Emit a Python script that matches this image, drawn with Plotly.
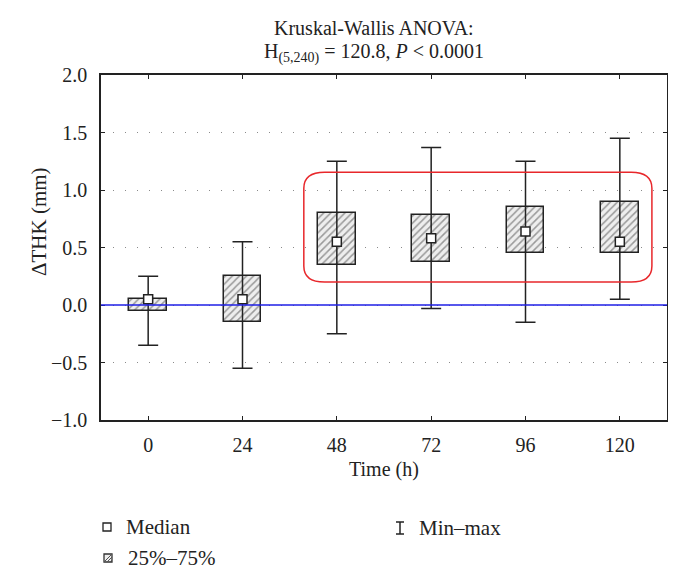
import plotly.graph_objects as go

# ---- data ----
time_labels = ["0", "24", "48", "72", "96", "120"]
medians = [0.05, 0.05, 0.55, 0.58, 0.64, 0.55]
q1 = [-0.05, -0.15, 0.35, 0.37, 0.45, 0.45]
q3 = [0.05, 0.25, 0.80, 0.78, 0.85, 0.90]
mins = [-0.35, -0.55, -0.25, -0.03, -0.15, 0.05]
maxs = [0.25, 0.55, 1.25, 1.37, 1.25, 1.45]
y_ticks = [-1.0, -0.5, 0.0, 0.5, 1.0, 1.5, 2.0]

xs = list(range(len(time_labels)))
FONT = "Liberation Serif"
INK = "#222222"

fig = go.Figure()

fig.add_trace(go.Bar(
    x=xs, y=[b - a for a, b in zip(q1, q3)], base=q1, width=0.4,
    marker=dict(color="#eeeeee",
                pattern=dict(shape="/", fgcolor="#444444", bgcolor="#eeeeee", size=5, solidity=0.3),
                line=dict(color=INK, width=1.5)),
    showlegend=False, hoverinfo="skip"))

fig.add_trace(go.Scatter(
    x=xs, y=medians, mode="markers",
    marker=dict(symbol="square", size=9, color="white", line=dict(color=INK, width=1.5)),
    error_y=dict(type="data", symmetric=False,
                 array=[mx - m for mx, m in zip(maxs, medians)],
                 arrayminus=[m - mn for m, mn in zip(medians, mins)],
                 color=INK, thickness=1.5, width=10),
    showlegend=False, hoverinfo="skip"))

# plot geometry (pixels) for paper-coordinate helpers
L, R, T, B = 93, 659, 67, 412
W, H = R - L, B - T
def px(x): return (x - L) / W
def py(y): return (B - y) / H

shapes = []
# blue zero line
shapes.append(dict(type="line", xref="paper", yref="y", x0=0, x1=1, y0=0, y1=0,
                   line=dict(color="#1f1fe6", width=1.5), layer="above"))
# red rounded outline around 48-120 h
x0, x1, y0, y1 = 1.65, 5.34, 0.20, 1.155
rx, ry = 0.22, 0.14
path = (f"M {x0+rx},{y1} L {x1-rx},{y1} Q {x1},{y1} {x1},{y1-ry} L {x1},{y0+ry} "
        f"Q {x1},{y0} {x1-rx},{y0} L {x0+rx},{y0} Q {x0},{y0} {x0},{y0+ry} "
        f"L {x0},{y1-ry} Q {x0},{y1} {x0+rx},{y1} Z")
shapes.append(dict(type="path", xref="x", yref="y", path=path,
                   line=dict(color="#e8272b", width=1.5), layer="above"))

# legend: median square
shapes.append(dict(type="rect", xref="paper", yref="paper",
                   x0=px(95), x1=px(103), y0=py(523), y1=py(515),
                   line=dict(color=INK, width=1.3), fillcolor="white"))
# legend: hatched square
shapes.append(dict(type="rect", xref="paper", yref="paper",
                   x0=px(96), x1=px(104), y0=py(554), y1=py(546),
                   line=dict(color="#333333", width=1.3), fillcolor="#eeeeee"))
for a in (0, 3, 6):
    shapes.append(dict(type="line", xref="paper", yref="paper",
                       x0=px(96 + a), y0=py(554), x1=px(min(104, 96 + a + 8)), y1=py(554 - min(8, 8 - a)),
                       line=dict(color="#555555", width=1)))
# legend: min-max symbol
shapes.append(dict(type="line", xref="paper", yref="paper", x0=px(392), x1=px(392),
                   y0=py(526), y1=py(514), line=dict(color=INK, width=1.5)))
for yy in (514, 526):
    shapes.append(dict(type="line", xref="paper", yref="paper", x0=px(388), x1=px(396),
                       y0=py(yy), y1=py(yy), line=dict(color=INK, width=1.5)))

annotations = [
    dict(text="Kruskal-Wallis ANOVA:", xref="paper", yref="paper", x=px(366), y=py(20),
         showarrow=False, font=dict(family=FONT, size=20, color=INK), xanchor="center", yanchor="middle"),
    dict(text="H<sub>(5,240)</sub> = 120.8, <i>P</i> &lt; 0.0001", xref="paper", yref="paper",
         x=px(366), y=py(45), showarrow=False, font=dict(family=FONT, size=20, color=INK),
         xanchor="center", yanchor="middle"),
    dict(text="ΔTHK (mm)", xref="paper", yref="paper", x=px(31), y=py(214), textangle=-90,
         showarrow=False, font=dict(family=FONT, size=21, color=INK), xanchor="center", yanchor="middle"),
    dict(text="Time (h)", xref="paper", yref="paper", x=0.5, y=py(461),
         showarrow=False, font=dict(family=FONT, size=20, color=INK), xanchor="center", yanchor="middle"),
    dict(text="Median", xref="paper", yref="paper", x=px(116), y=py(519),
         showarrow=False, font=dict(family=FONT, size=21, color=INK), xanchor="left", yanchor="middle"),
    dict(text="25%–75%", xref="paper", yref="paper", x=px(118), y=py(550),
         showarrow=False, font=dict(family=FONT, size=21, color=INK), xanchor="left", yanchor="middle"),
    dict(text="Min–max", xref="paper", yref="paper", x=px(409), y=py(520),
         showarrow=False, font=dict(family=FONT, size=21, color=INK), xanchor="left", yanchor="middle"),
]

fig.update_layout(
    width=676, height=569,
    margin=dict(l=L, r=676 - R, t=T, b=569 - B),
    paper_bgcolor="white", plot_bgcolor="white",
    font=dict(family=FONT, size=20, color=INK),
    shapes=shapes, annotations=annotations, showlegend=False,
    bargap=0,
)
fig.update_xaxes(range=[-0.5, 5.5], tickmode="array", tickvals=xs, ticktext=time_labels,
                 showline=True, linecolor=INK, linewidth=1.5, mirror="ticks",
                 ticks="inside", ticklen=4, tickcolor=INK, showgrid=False, zeroline=False,
                 ticklabelstandoff=6,
                 tickfont=dict(family=FONT, size=20, color=INK))
fig.update_yaxes(range=[-1.0, 2.0], tickmode="array", tickvals=y_ticks, tickformat=".1f",
                 showline=True, linecolor=INK, linewidth=1.5, mirror="ticks",
                 ticks="inside", ticklen=4, tickcolor=INK,
                 showgrid=True, gridcolor="#8a8a8a", gridwidth=1.3, griddash="1px,11px",
                 zeroline=False, ticklabelstandoff=8,
                 tickfont=dict(family=FONT, size=20, color=INK))

fig.write_html("out.html")
